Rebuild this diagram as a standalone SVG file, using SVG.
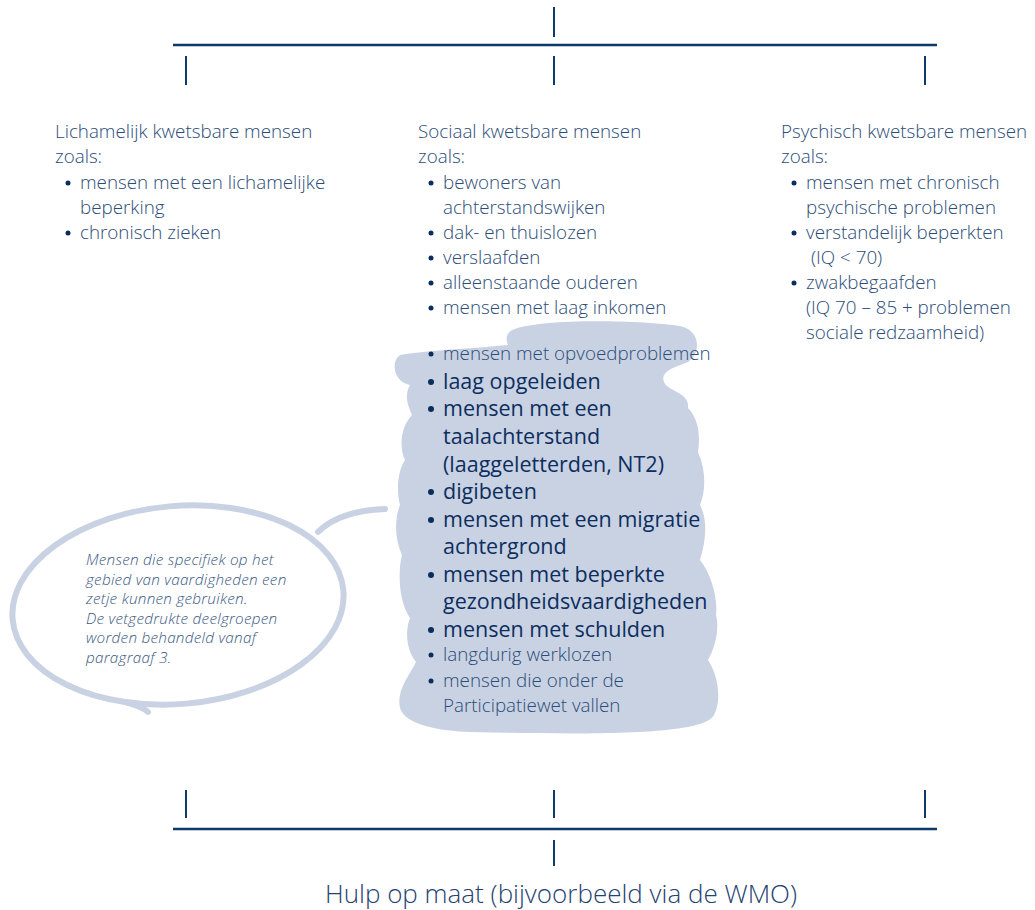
<svg xmlns="http://www.w3.org/2000/svg" width="1035" height="910" viewBox="0 0 1035 910">
<style>
.ln{stroke:#0d3a6b;stroke-width:2;fill:none}
.hl{stroke:#0d3a6b;stroke-width:2.5;fill:none}
.t{font-family:"Open Sans","Noto Sans",sans-serif;font-weight:300;font-size:18.8px;fill:#2b4c78}
.b{font-family:"Open Sans","Noto Sans",sans-serif;font-weight:500;font-size:21.5px;fill:#0c2e5e}
.it{font-family:"Open Sans","Noto Sans",sans-serif;font-weight:300;font-style:italic;font-size:15.3px;letter-spacing:0.25px;fill:#3a5884}
.ft{font-family:"Open Sans","Noto Sans",sans-serif;font-weight:300;font-size:26px;fill:#1f4272}
.dot{fill:#0b2d5b}
.bub{stroke:#c9d2e3;stroke-width:6;fill:none;stroke-linecap:round}
</style>
<g id="connectors">
<line class="ln" x1="554" y1="7" x2="554" y2="37"/>
<line class="hl" x1="173" y1="45" x2="937" y2="45"/>
<line class="ln" x1="186" y1="56" x2="186" y2="85"/>
<line class="ln" x1="554" y1="56" x2="554" y2="85"/>
<line class="ln" x1="925" y1="56" x2="925" y2="85"/>
<line class="ln" x1="186" y1="790" x2="186" y2="818"/>
<line class="ln" x1="554" y1="790" x2="554" y2="818"/>
<line class="ln" x1="925" y1="790" x2="925" y2="818"/>
<line class="hl" x1="173" y1="829" x2="937" y2="829"/>
<line class="ln" x1="554" y1="840" x2="554" y2="866"/>
</g>
<g id="blob">
<path fill="#c9d2e3" d="M512,330 C540,318 640,320 680,326 C700,330 702,352 688,362 C672,368 660,372 664,382 C668,392 690,392 688,408 C700,420 700,440 698,452 C706,470 706,490 700,505 C708,520 706,540 700,560 C712,575 718,600 716,615 C720,630 714,650 708,660 C718,675 722,700 714,715 C704,735 600,735 470,732 C440,731 405,725 400,708 C396,690 410,675 416,662 C406,650 405,630 410,618 C398,600 398,570 402,555 C395,540 394,520 400,505 C396,490 398,470 405,460 C398,445 402,425 412,415 C405,400 406,392 410,385 C394,382 390,362 400,355 C430,350 480,348 508,345 C505,338 507,333 512,330 Z"/>
</g>
<g id="col-lichamelijk">
<text class="t" x="55" y="138">Lichamelijk kwetsbare mensen</text>
<text class="t" x="55" y="163">zoals:</text>
<circle class="dot" cx="68" cy="183" r="2.5"/>
<text class="t" x="80" y="189">mensen met een lichamelijke</text>
<text class="t" x="80" y="214">beperking</text>
<circle class="dot" cx="68" cy="233" r="2.5"/>
<text class="t" x="80" y="239">chronisch zieken</text>
</g>
<g id="col-sociaal">
<text class="t" x="418" y="138">Sociaal kwetsbare mensen</text>
<text class="t" x="418" y="163">zoals:</text>
<circle class="dot" cx="431" cy="183" r="2.5"/>
<text class="t" x="443" y="189">bewoners van</text>
<text class="t" x="443" y="214">achterstandswijken</text>
<circle class="dot" cx="431" cy="233" r="2.5"/>
<text class="t" x="443" y="239">dak- en thuislozen</text>
<circle class="dot" cx="431" cy="258" r="2.5"/>
<text class="t" x="443" y="264">verslaafden</text>
<circle class="dot" cx="431" cy="283" r="2.5"/>
<text class="t" x="443" y="289">alleenstaande ouderen</text>
<circle class="dot" cx="431" cy="308" r="2.5"/>
<text class="t" x="443" y="314">mensen met laag inkomen</text>
<circle class="dot" cx="431" cy="354" r="2.5"/>
<text class="t" x="443" y="360">mensen met opvoedproblemen</text>
<circle class="dot" cx="431" cy="382" r="3"/>
<text class="b" x="443" y="389">laag opgeleiden</text>
<circle class="dot" cx="431" cy="409" r="3"/>
<text class="b" x="443" y="416">mensen met een</text>
<text class="b" x="443" y="444">taalachterstand</text>
<text class="b" x="443" y="472">(laaggeletterden, NT2)</text>
<circle class="dot" cx="431" cy="492" r="3"/>
<text class="b" x="443" y="499">digibeten</text>
<circle class="dot" cx="431" cy="520" r="3"/>
<text class="b" x="443" y="527">mensen met een migratie</text>
<text class="b" x="443" y="554">achtergrond</text>
<circle class="dot" cx="431" cy="575" r="3"/>
<text class="b" x="443" y="582">mensen met beperkte</text>
<text class="b" x="443" y="609">gezondheidsvaardigheden</text>
<circle class="dot" cx="431" cy="630" r="3"/>
<text class="b" x="443" y="637">mensen met schulden</text>
<circle class="dot" cx="431" cy="655" r="2.5"/>
<text class="t" x="443" y="661">langdurig werklozen</text>
<circle class="dot" cx="431" cy="681" r="2.5"/>
<text class="t" x="443" y="687">mensen die onder de</text>
<text class="t" x="443" y="712">Participatiewet vallen</text>
</g>
<g id="col-psychisch">
<text class="t" x="781" y="138">Psychisch kwetsbare mensen</text>
<text class="t" x="781" y="163">zoals:</text>
<circle class="dot" cx="794" cy="183" r="2.5"/>
<text class="t" x="806" y="189">mensen met chronisch</text>
<text class="t" x="806" y="214">psychische problemen</text>
<circle class="dot" cx="794" cy="233" r="2.5"/>
<text class="t" x="806" y="239">verstandelijk beperkten</text>
<text class="t" x="811" y="264">(IQ &lt; 70)</text>
<circle class="dot" cx="794" cy="283" r="2.5"/>
<text class="t" x="806" y="289">zwakbegaafden</text>
<text class="t" x="806" y="314">(IQ 70 – 85 + problemen</text>
<text class="t" x="806" y="339">sociale redzaamheid)</text>
</g>
<g id="bubble">
<ellipse class="bub" cx="178" cy="605" rx="166" ry="99" transform="rotate(-5 178 605)"/>
<path class="bub" d="M318,532 C335,515 360,510 385,509"/>
<path class="bub" d="M128,703 C138,706 145,709 148,712"/>
<text class="it" x="86" y="565">Mensen die specifiek op het</text>
<text class="it" x="86" y="584.5">gebied van vaardigheden een</text>
<text class="it" x="86" y="604">zetje kunnen gebruiken.</text>
<text class="it" x="86" y="623.5">De vetgedrukte deelgroepen</text>
<text class="it" x="86" y="643">worden behandeld vanaf</text>
<text class="it" x="86" y="662.5">paragraaf 3.</text>
</g>
<g id="footer">
<text class="ft" x="561" y="903" text-anchor="middle">Hulp op maat (bijvoorbeeld via de WMO)</text>
</g>
</svg>
